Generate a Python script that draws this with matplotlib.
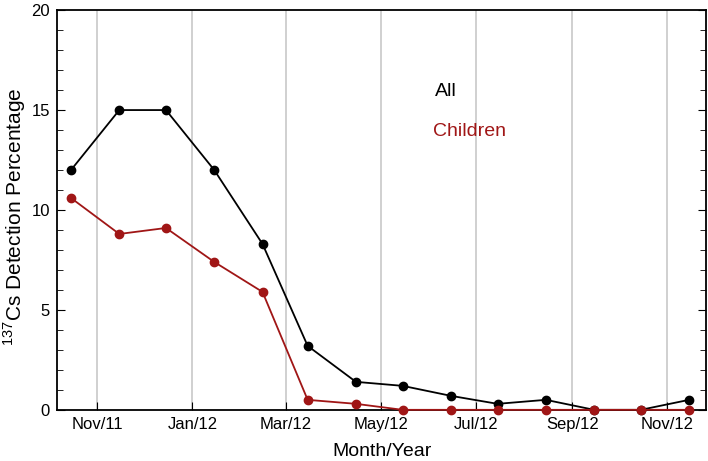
import datetime as dt
import matplotlib
matplotlib.use("Agg")
import matplotlib.pyplot as plt
from matplotlib.ticker import MultipleLocator

plt.rcParams['font.family'] = ['Liberation Sans', 'DejaVu Sans']
plt.rcParams['mathtext.fontset'] = 'custom'
plt.rcParams['mathtext.rm'] = 'Liberation Sans'

# monthly survey points (mid-month), Oct 2011 .. Nov 2012
months = [(2011, 10), (2011, 11), (2011, 12), (2012, 1), (2012, 2), (2012, 3), (2012, 4),
          (2012, 5), (2012, 6), (2012, 7), (2012, 8), (2012, 9), (2012, 10), (2012, 11)]
all_pct = [12.0, 15.0, 15.0, 12.0, 8.3, 3.2, 1.4, 1.2, 0.7, 0.3, 0.5, 0.0, 0.0, 0.5]
children_pct = [10.6, 8.8, 9.1, 7.4, 5.9, 0.5, 0.3, 0.0, 0.0, 0.0, 0.0, 0.0, 0.0, 0.0]
tick_months = [(2011, 11), (2012, 1), (2012, 3), (2012, 5), (2012, 7), (2012, 9), (2012, 11)]
tick_labels = ["Nov/11", "Jan/12", "Mar/12", "May/12", "Jul/12", "Sep/12", "Nov/12"]

red = "#a01616"

x = [dt.date(y, m, 15) for y, m in months]
ticks = [dt.date(y, m, 1) for y, m in tick_months]

fig = plt.figure(figsize=(7.08, 4.61), dpi=100)
ax = fig.add_axes([0.0805, 0.111, 0.917, 0.867])

ax.plot(x, all_pct, '-o', color='black', lw=1.3, ms=6, zorder=3, clip_on=False)
ax.plot(x, children_pct, '-o', color=red, lw=1.3, ms=6, zorder=4, clip_on=False)

ax.set_xlim(dt.date(2011, 10, 6), dt.date(2012, 11, 26))
ax.set_ylim(0, 20)
ax.set_xticks(ticks)
ax.set_xticklabels(tick_labels)
ax.yaxis.set_major_locator(MultipleLocator(5))
ax.yaxis.set_minor_locator(MultipleLocator(1))
ax.grid(axis='x', color='#c8c8c8', lw=1.2, zorder=0)

ax.tick_params(axis='both', which='both', direction='in', labelsize=12)
ax.tick_params(axis='y', which='both', right=True)
ax.tick_params(axis='y', which='major', length=6, pad=5)
ax.tick_params(axis='y', which='minor', length=4)
ax.tick_params(axis='x', which='major', length=6, pad=5)
for s in ax.spines.values():
    s.set_linewidth(1.3)

ax.set_xlabel("Month/Year", fontsize=14, labelpad=8)
ax.set_ylabel(r"$^{137}$Cs Detection Percentage", fontsize=15)
ax.yaxis.set_label_coords(-0.044, 0.483)

ax.text(0.582, 0.785, "All", transform=ax.transAxes, fontsize=14, color='black')
ax.text(0.579, 0.685, "Children", transform=ax.transAxes, fontsize=14, color=red)

fig.savefig("out.png", dpi=100)
